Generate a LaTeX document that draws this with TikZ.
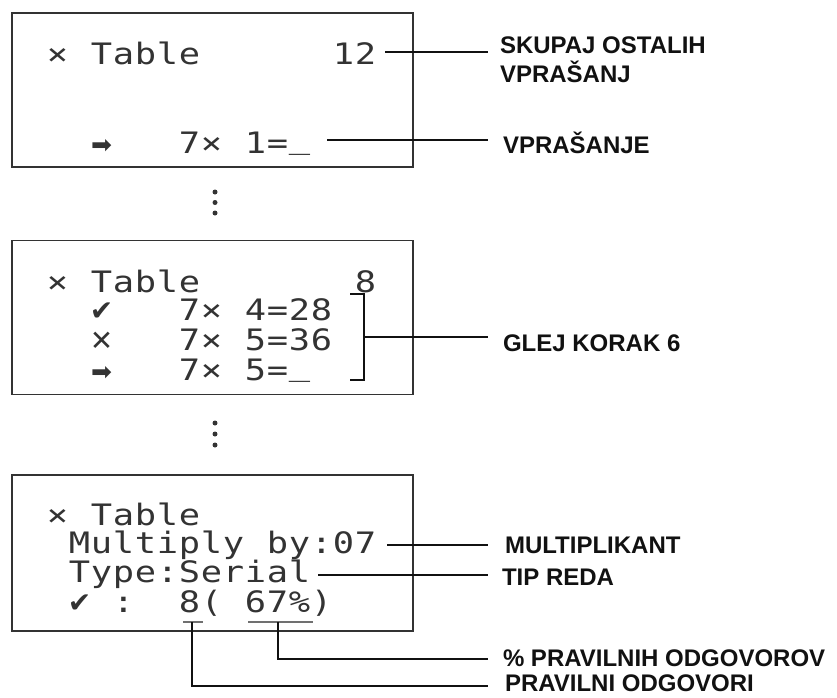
\documentclass[tikz,border=0pt]{standalone}
\usepackage{fontspec}
\newfontfamily\lcdfont{DejaVu Sans Mono}[FakeStretch=1.2]
\newfontfamily\iconfont{DejaVu Sans}
\newfontfamily\lblfont{Liberation Sans}
\newlength\lcdw \setlength\lcdw{22pt}
\def\lcdendmark{}
\def\lcdend{\lcdendmark}
\def\lcdrow#1{\lcdloop#1\lcdend}
\def\lcdloop#1{\ifx\lcdend#1\else\makebox[\lcdw][c]{#1}\expandafter\lcdloop\fi}
\def\chk{{\iconfont\fontsize{28}{28}\selectfont ✔}}
\def\arr{{\iconfont\fontsize{25}{25}\selectfont ➡}}
\def\crs{{\iconfont\fontsize{28}{28}\selectfont ✕}}
\def\ul{\raisebox{5pt}{\_}}
\definecolor{lcd}{HTML}{333333}
\definecolor{ink}{HTML}{111111}
\tikzset{
  screen/.style={draw=lcd, line width=1.6pt, inner sep=0pt, outer sep=0pt},
  lcdtext/.style={anchor=base west, inner sep=0pt, outer sep=0pt, text=lcd,
    font=\lcdfont\fontsize{29.5}{29.5}\selectfont},
  lbl/.style={anchor=base west, inner sep=0pt, outer sep=0pt, text=ink, align=left,
    font=\lblfont\bfseries\fontsize{24}{29}\selectfont},
  conn/.style={draw=ink, line width=1.2pt},
  uline/.style={draw=lcd!70, line width=2.6pt},
  vdot/.style={circle, fill=lcd, inner sep=0pt, minimum size=5pt},
}
\begin{document}
\begin{tikzpicture}[x=1pt,y=-1pt]
\useasboundingbox (0,0) rectangle (837,697);
% screens
\node[screen, minimum width=401pt, minimum height=154pt] (s1) at (212.5,90) {};
\node[screen, minimum width=401pt, minimum height=154pt] (s2) at (212.5,317.5) {};
\node[screen, minimum width=401pt, minimum height=156pt] (s3) at (212.5,553) {};
% screen 1
\node[lcdtext] (r1a) at (46.5,64) {\lcdrow{×~Table~~~~~~12}};
\node[lcdtext] (r1b) at (46.5,153) {\lcdrow{~~\arr~~~7×~1=\ul}};
% screen 2
\node[lcdtext] (r2a) at (46.5,292) {\lcdrow{×~Table~~~~~~~8}};
\node[lcdtext] (r2b) at (46.5,320) {\lcdrow{~~\chk~~~7×~4=28}};
\node[lcdtext] (r2c) at (46.5,350) {\lcdrow{~~\crs~~~7×~5=36}};
\node[lcdtext] (r2d) at (46.5,380) {\lcdrow{~~\arr~~~7×~5=\ul}};
% screen 3
\node[lcdtext] (r3a) at (46.5,525) {\lcdrow{×~Table}};
\node[lcdtext] (r3b) at (46.5,553) {\lcdrow{~Multiply~by:07}};
\node[lcdtext] (r3c) at (46.5,582) {\lcdrow{~Type:Serial}};
\node[lcdtext] (r3d) at (46.5,612) {\lcdrow{~\chk~:~~8(~67\%)}};
% vertical ellipsis dots
\node[vdot] (d1) at (215,192) {};
\node[vdot] (d2) at (215,202.5) {};
\node[vdot] (d3) at (215,213) {};
\node[vdot] (d4) at (215,423) {};
\node[vdot] (d5) at (215,434) {};
\node[vdot] (d6) at (215,445) {};
% labels
\node[lbl] (lA) at (500,82) {SKUPAJ OSTALIH\\VPRAŠANJ};
\node[lbl] (lB) at (503,153) {VPRAŠANJE};
\node[lbl] (lC) at (503,351) {GLEJ KORAK 6};
\node[lbl] (lD) at (505,553) {MULTIPLIKANT};
\node[lbl] (lE) at (502,585) {TIP REDA};
\node[lbl] (lF) at (503,666) {\% PRAVILNIH ODGOVOROV};
\node[lbl] (lG) at (505,691) {PRAVILNI ODGOVORI};
% connector coordinates
\coordinate (cA) at (385,52);   \coordinate (eA) at (488,52);
\coordinate (cB) at (327,140);  \coordinate (eB) at (488,140);
\coordinate (bt) at (350,294);  \coordinate (btr) at (364,294);
\coordinate (bb) at (350,380);  \coordinate (bbr) at (364,380);
\coordinate (bm) at (364,337);  \coordinate (eC) at (488,337);
\coordinate (cD) at (387,545);  \coordinate (eD) at (488,545);
\coordinate (cE) at (318,575);  \coordinate (eE) at (488,575);
\coordinate (u8a) at (183,622); \coordinate (u8b) at (203,622);
\coordinate (u6a) at (248,622); \coordinate (u6b) at (313,622);
\coordinate (c8) at (192,622);  \coordinate (k8) at (192,686); \coordinate (e8) at (488,686);
\coordinate (c6) at (278,622);  \coordinate (k6) at (278,659); \coordinate (e6) at (488,659);
% connectors
\draw[conn] (cA) -- (eA);
\draw[conn] (cB) -- (eB);
\draw[conn] (bt) -- (btr) -- (bbr) -- (bb);
\draw[conn] (bm) -- (eC);
\draw[conn] (cD) -- (eD);
\draw[conn] (cE) -- (eE);
\draw[uline] (u8a) -- (u8b);
\draw[uline] (u6a) -- (u6b);
\draw[conn] (c8) -- (k8) -- (e8);
\draw[conn] (c6) -- (k6) -- (e6);
\end{tikzpicture}
\end{document}
